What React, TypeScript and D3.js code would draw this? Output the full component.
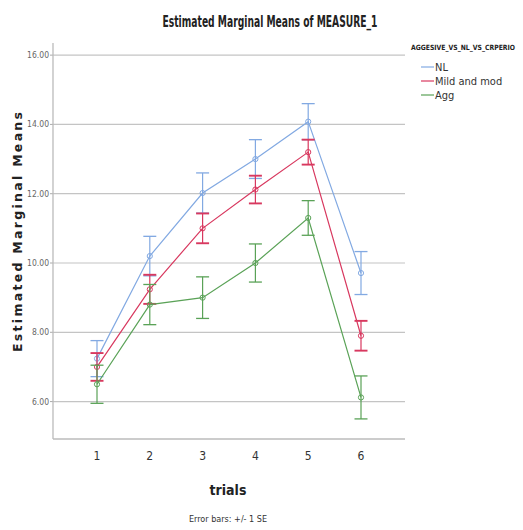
import React from "react";
import * as d3 from "d3";

const trials = [1, 2, 3, 4, 5, 6];
const yTicks = [6, 8, 10, 12, 14, 16];
const seriesNames = ["NL", "Mild and mod", "Agg"];
const nlMeans = [7.24, 10.2, 12.02, 13.0, 14.08, 9.71];
const nlSE = [0.52, 0.57, 0.58, 0.56, 0.52, 0.62];
const mildMeans = [7.0, 9.24, 11.0, 12.12, 13.2, 7.9];
const mildSE = [0.4, 0.42, 0.43, 0.4, 0.36, 0.43];
const aggMeans = [6.5, 8.8, 9.0, 10.0, 11.3, 6.12];
const aggSE = [0.55, 0.58, 0.6, 0.55, 0.5, 0.62];
const colors = ["#82a9e2", "#d8385f", "#5aa257"];

const W = 523;
const H = 530;

export default function App() {
  const x = d3.scalePoint<number>().domain(trials).range([97, 361]);
  const y = d3.scaleLinear().domain([4.92, 16.35]).range([439, 43]);
  const series = [
    { name: seriesNames[0], means: nlMeans, se: nlSE, color: colors[0], capW: 1 },
    { name: seriesNames[1], means: mildMeans, se: mildSE, color: colors[1], capW: 1.6 },
    { name: seriesNames[2], means: aggMeans, se: aggSE, color: colors[2], capW: 1 },
  ];
  const line = d3
    .line<number>()
    .x((_, i) => x(trials[i]) as number)
    .y((d) => y(d));
  const narrow = "'DejaVu Sans Condensed', 'Liberation Sans Narrow', 'Liberation Sans', sans-serif";
  const xLeft = 53;
  const xRight = 405;
  const capHalf = 6.5;
  return (
    <svg width={W} height={H} style={{ position: "absolute", left: 0, top: 0, background: "#fff" }}>
      <rect x={0} y={0} width={W} height={H} fill="#fff" />
      <text x={270} y={27} textAnchor="middle" fontFamily={narrow} fontWeight="bold" fontSize={15} textLength={215} lengthAdjust="spacingAndGlyphs" fill="#222">
        Estimated Marginal Means of MEASURE_1
      </text>
      {/* gridlines */}
      {yTicks.map((t) => (
        <g key={t}>
          <line x1={xLeft} x2={xRight} y1={y(t)} y2={y(t)} stroke="#c4c4c4" strokeWidth={1.2} />
          <line x1={xLeft - 3} x2={xLeft} y1={y(t)} y2={y(t)} stroke="#aaa" />
          <text x={xLeft - 4} y={y(t) + 3} textAnchor="end" fontFamily={narrow} fontSize={8.5} fill="#666">
            {t.toFixed(2)}
          </text>
        </g>
      ))}
      {/* axes */}
      <line x1={xLeft} x2={xLeft} y1={43} y2={439} stroke="#bbb" strokeWidth={1.3} />
      <line x1={xLeft} x2={xRight} y1={439} y2={439} stroke="#bbb" strokeWidth={1.3} />
      {trials.map((t) => (
        <text key={t} x={x(t)} y={460} textAnchor="middle" fontFamily={narrow} fontSize={12} fill="#333">
          {t}
        </text>
      ))}
      <text x={228} y={495} textAnchor="middle" fontFamily={narrow} fontWeight="bold" fontSize={14} fill="#222">
        trials
      </text>
      <text x={228} y={522} textAnchor="middle" fontFamily={narrow} fontSize={9} fill="#333">
        Error bars: +/- 1 SE
      </text>
      <text
        transform={`translate(22,232) rotate(-90)`}
        textAnchor="middle"
        fontFamily="'DejaVu Sans', sans-serif"
        fontWeight="bold"
        fontSize={12.5}
        textLength={240}
        lengthAdjust="spacing"
        fill="#222"
      >
        Estimated Marginal Means
      </text>
      {/* series */}
      {series.map((s) => (
        <g key={s.name}>
          <path d={line(s.means) || ""} fill="none" stroke={s.color} strokeWidth={1.2} />
          {s.means.map((m, i) => {
            const cx = x(trials[i]) as number;
            const top = y(m + s.se[i]);
            const bot = y(m - s.se[i]);
            return (
              <g key={i}>
                <line x1={cx} x2={cx} y1={top} y2={bot} stroke={s.color} strokeWidth={1.2} />
                <line x1={cx - capHalf} x2={cx + capHalf} y1={top} y2={top} stroke={s.color} strokeWidth={s.capW + 0.3} />
                <line x1={cx - capHalf} x2={cx + capHalf} y1={bot} y2={bot} stroke={s.color} strokeWidth={s.capW + 0.3} />
                <circle cx={cx} cy={y(m)} r={2.6} fill="none" stroke={s.color} strokeWidth={1} />
              </g>
            );
          })}
        </g>
      ))}
      {/* legend */}
      <text x={411} y={50} fontFamily={narrow} fontWeight="bold" fontSize={7.2} textLength={104} lengthAdjust="spacingAndGlyphs" fill="#222">
        AGGESIVE_VS_NL_VS_CRPERIO
      </text>
      {series.map((s, i) => (
        <g key={s.name}>
          <line x1={421} x2={434} y1={67 + i * 14} y2={67 + i * 14} stroke={s.color} strokeWidth={1.2} />
          <text x={435} y={71 + i * 14} fontFamily={narrow} fontSize={11} fill="#333">
            {s.name}
          </text>
        </g>
      ))}
    </svg>
  );
}
